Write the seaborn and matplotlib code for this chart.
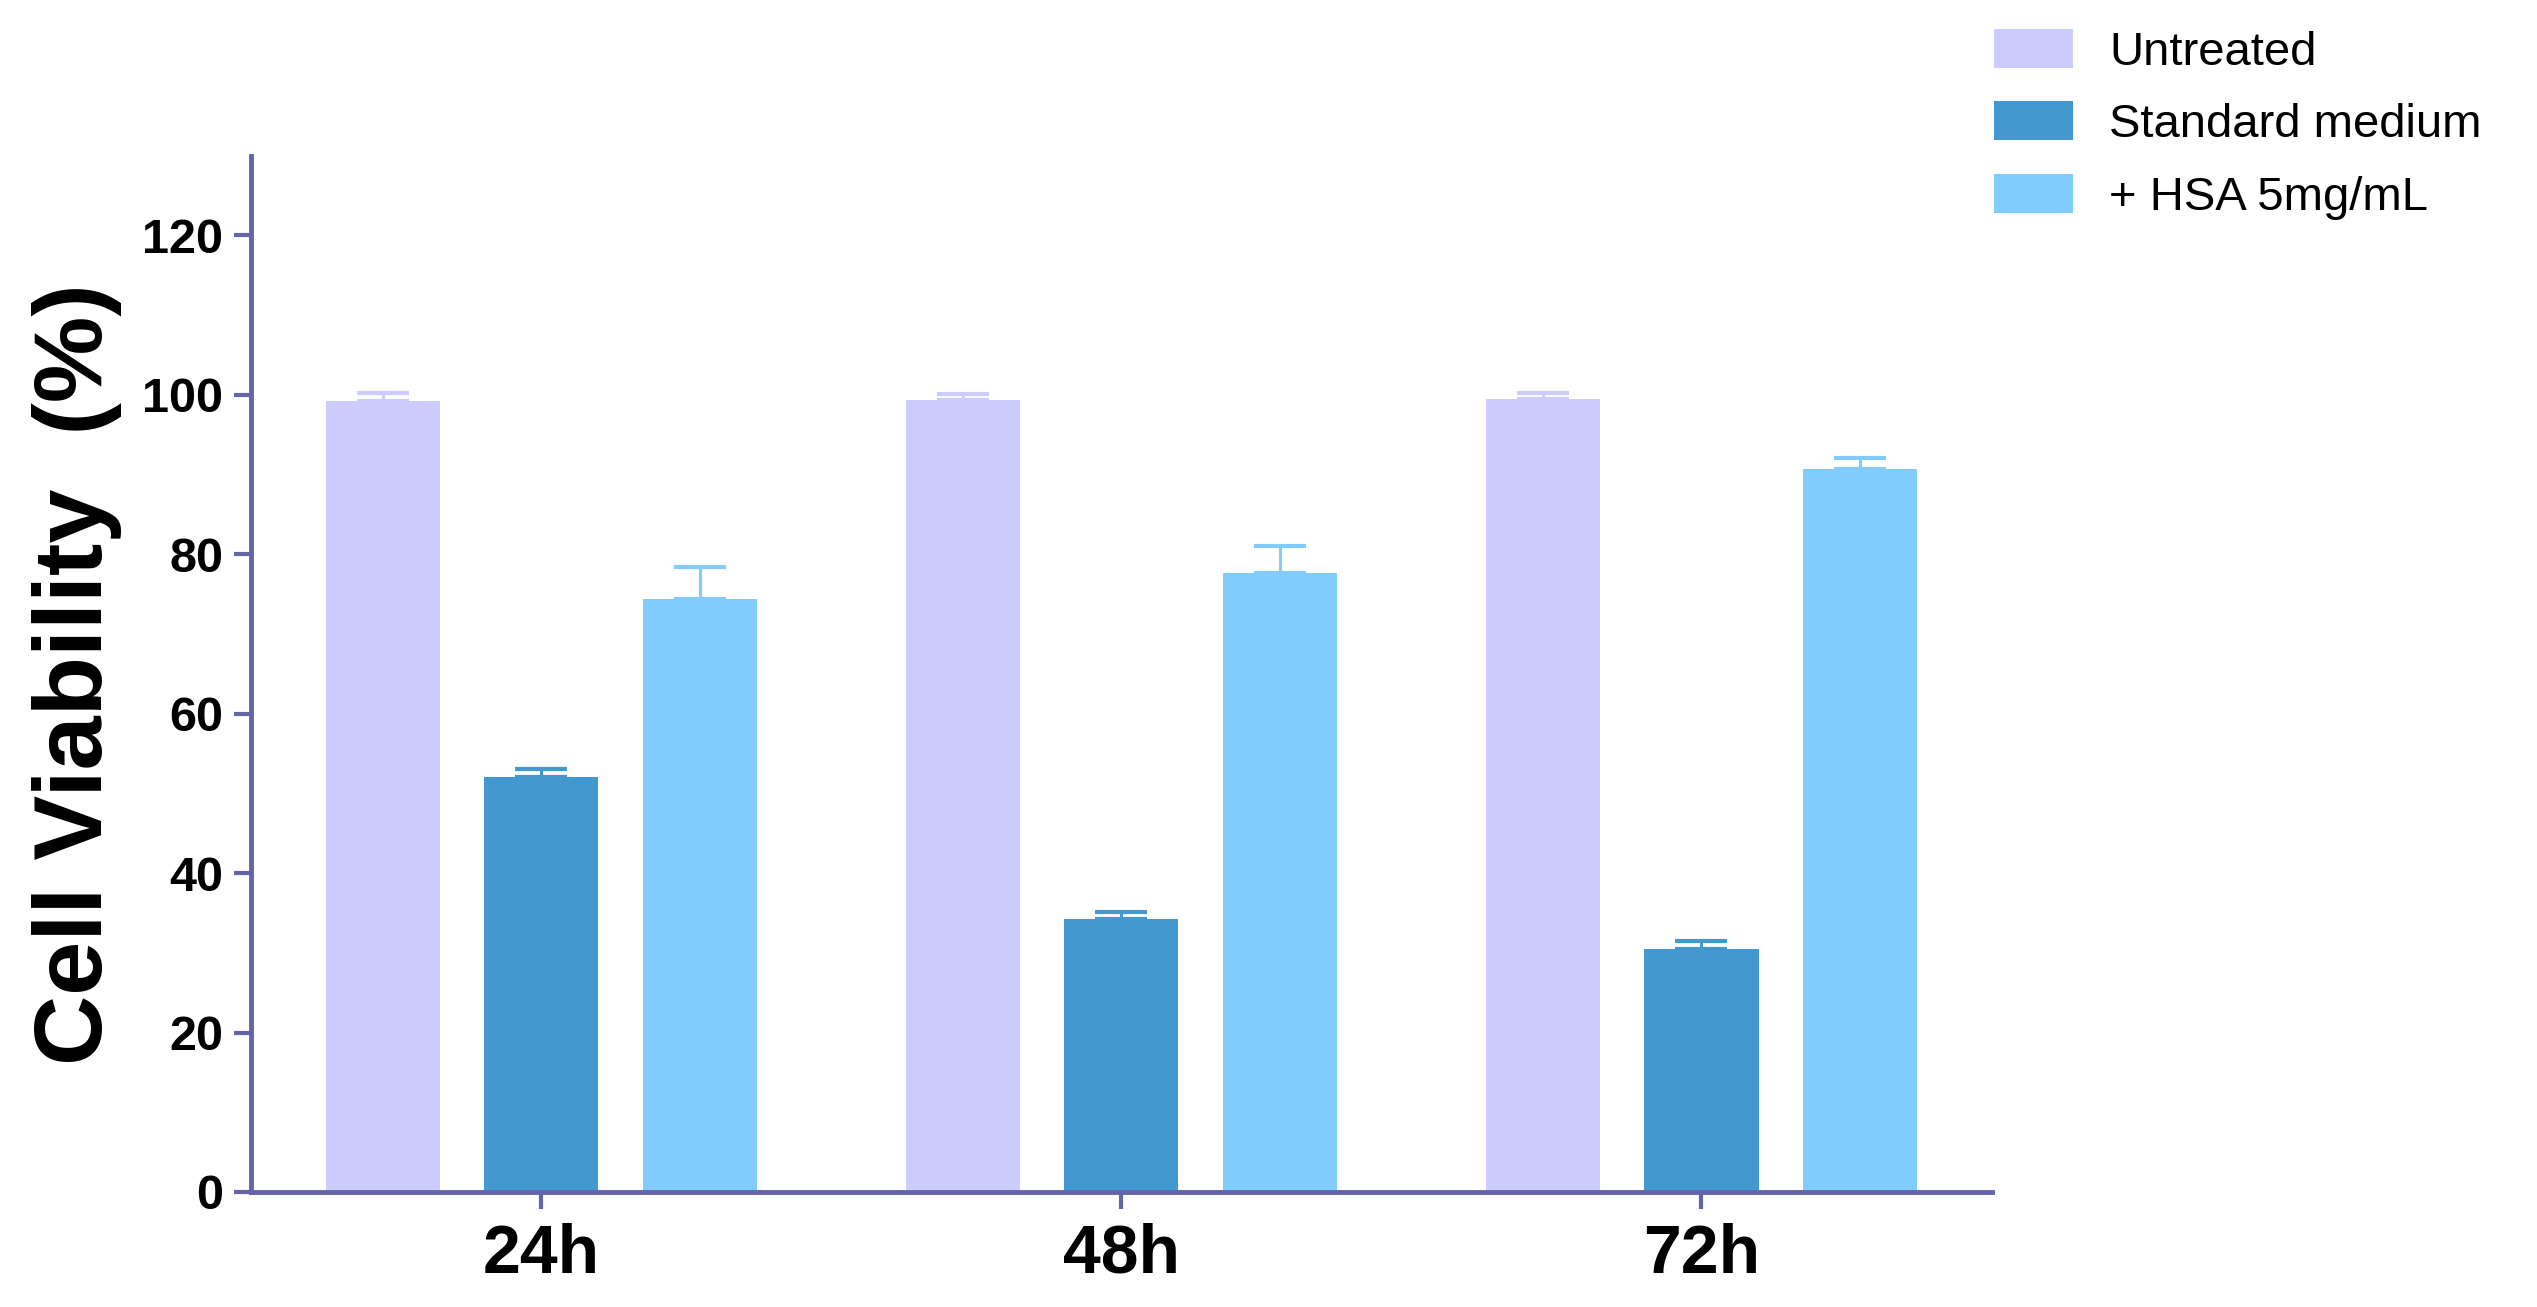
import matplotlib
matplotlib.use("Agg")
import matplotlib.pyplot as plt
import seaborn as sns
import pandas as pd

# data
timepoints = ["24h", "48h", "72h"]
groups = ["Untreated", "Standard medium", "+ HSA 5mg/mL"]
untreated = [99.2, 99.3, 99.5]
standard = [52.1, 34.2, 30.5]
hsa = [74.4, 77.7, 90.7]
untreated_err = [1.0, 0.8, 0.7]
standard_err = [1.0, 0.9, 1.0]
hsa_err = [4.0, 3.3, 1.3]

colors = ["#CCCCFF", "#4399CF", "#80CCFF"]
axis_color = "#6464A8"

df = pd.DataFrame({
    "time": timepoints * 3,
    "group": [g for g in groups for _ in timepoints],
    "viability": untreated + standard + hsa,
})
errs = [untreated_err, standard_err, hsa_err]

sns.set_style("white")
plt.rcParams["font.family"] = ["Liberation Sans", "DejaVu Sans"]
plt.rcParams["text.color"] = "black"
plt.rcParams["axes.labelcolor"] = "black"
plt.rcParams["xtick.color"] = "black"
plt.rcParams["ytick.color"] = "black"

fig = plt.figure(figsize=(25.37, 13.07), dpi=100)
ax = fig.add_axes([0.099, 0.088, 0.686, 0.793])

sns.barplot(data=df, x="time", y="viability", hue="group", hue_order=groups,
            palette=colors, width=0.82, gap=0.28, errorbar=None,
            saturation=1, ax=ax, linewidth=0)

# upper-only error bars, same colour as the bars
for cont, err, col in zip(ax.containers, errs, colors):
    xs = [p.get_x() + p.get_width() / 2 for p in cont.patches]
    hs = [p.get_height() for p in cont.patches]
    ax.errorbar(xs, hs, yerr=[[0] * len(err), err], fmt="none", ecolor=col,
                elinewidth=2.2, capsize=18.7, capthick=3, zorder=1)

ax.set_xlim(-0.5, 2.5)
ax.set_ylim(0, 130)
ax.set_yticks([0, 20, 40, 60, 80, 100, 120])
ax.set_xlabel("")
ax.set_ylabel("Cell Viability  (%)", fontsize=70, fontweight="bold", labelpad=15)

for side in ["top", "right"]:
    ax.spines[side].set_visible(False)
for side in ["left", "bottom"]:
    ax.spines[side].set_color(axis_color)
    ax.spines[side].set_linewidth(3.5)

ax.tick_params(axis="both", which="major", direction="out", length=12, width=3,
               color=axis_color, labelcolor="black", left=True, bottom=True)
ax.tick_params(axis="y", labelsize=35, pad=8)
ax.tick_params(axis="x", labelsize=49, pad=10)
for lbl in ax.get_xticklabels() + ax.get_yticklabels():
    lbl.set_fontweight("bold")

ax.legend_.remove()
handles = [matplotlib.patches.Patch(facecolor=c, edgecolor="none") for c in colors]
fig.legend(handles, groups, loc="upper left", bbox_to_anchor=(0.786, 0.978),
           frameon=False, fontsize=34, borderpad=0, borderaxespad=0,
           handlelength=1.68, handleheight=0.89, handletextpad=0.76,
           labelspacing=0.57)

fig.savefig("out.png", dpi=100)
